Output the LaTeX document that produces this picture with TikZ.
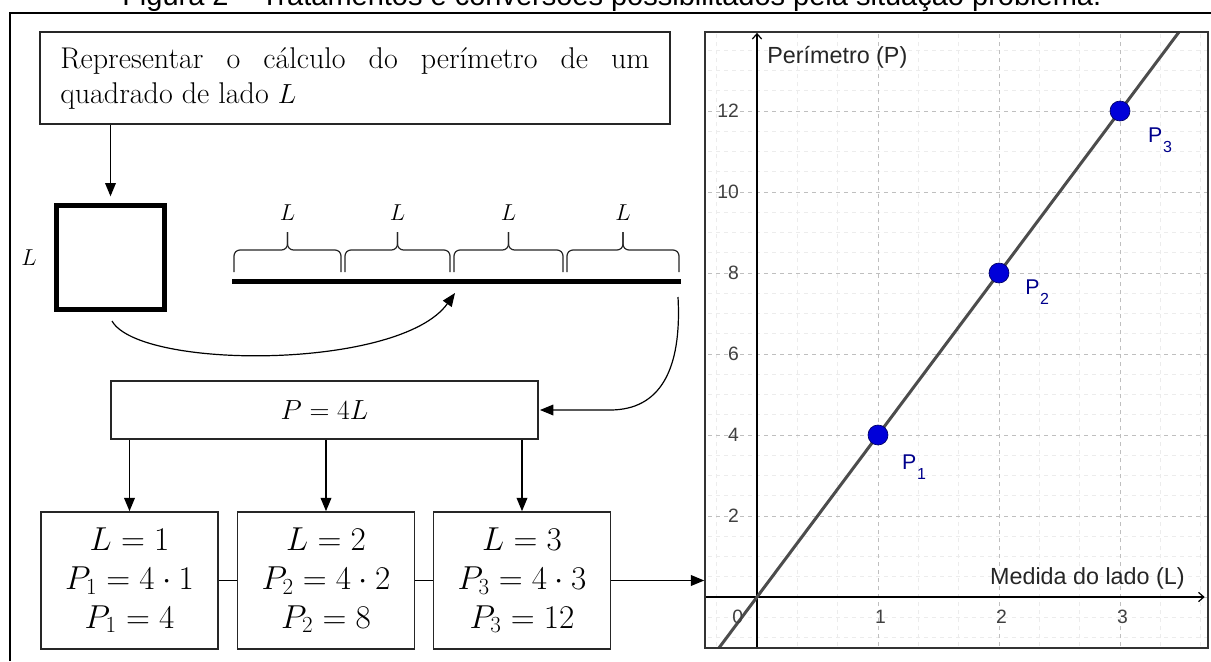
\documentclass[tikz,border=0pt]{standalone}
\usepackage{fontspec}
\usepackage{amsmath}
\setsansfont{Liberation Sans}
\usetikzlibrary{arrows.meta,positioning,calc}

\newcommand{\ptlab}[1]{P\kern0.5pt\raisebox{-7pt}{\fontsize{12}{12}\selectfont #1}}

\tikzset{
  conn/.style={-{Triangle[length=10pt,width=8pt]}, line width=1.1pt},
  boxed/.style={draw=black!85, line width=1.2pt},
  valbox/.style={boxed, minimum width=132.75pt, minimum height=102.75pt, align=center, font=\fontsize{23}{29}\selectfont},
  bracepart/.style={line width=0.9pt, rounded corners=4.5pt, black!85},
  majorgrid/.style={gray!50, dashed, line width=0.5pt},
  minorgrid/.style={gray!15, dashed, line width=0.4pt},
  ticklab/.style={font=\sffamily\fontsize{14.5}{15}\selectfont, text=black!75},
  axislab/.style={font=\sffamily\fontsize{17.5}{20}\selectfont, text=black!85, inner sep=0pt},
  ptdot/.style={circle, fill=blue!85!black, draw=blue!40!black, line width=0.5pt, minimum size=15pt, inner sep=0pt},
  ptname/.style={font=\sffamily\fontsize{16}{18}\selectfont, text=blue!55!black, anchor=base west, inner sep=0pt},
}

\begin{document}
\begin{tikzpicture}[x=0.75pt, y=-0.75pt]
  \useasboundingbox[fill=white] (0,0) rectangle (1211,661);
  % caption, cut by the page, and the outer frame
  \node[font=\sffamily\fontsize{21.75}{26}\selectfont, anchor=base west, inner sep=0pt] (caption) at (122,5)
    {Figura 2 – Tratamentos e conversões possibilitados pela situação problema.};
  \draw[line width=1.5pt] (10,661) -- (10,13) -- (1211,13);

  % the task and the square
  \node[boxed, minimum width=472.5pt, minimum height=69pt, align=left, font=\fontsize{22.5}{26.25}\selectfont] (task) at (355,78)
    {\makebox[442pt][s]{Representar o cálculo do perímetro de um}\\quadrado de lado $L$};
  \node[draw, line width=3.75pt, minimum width=81pt, minimum height=78pt] (sq) at (110.5,257.5) {};
  \node[font=\fontsize{19}{22}\selectfont] (sqside) at (29,258) {$L$};
  \draw[conn, shorten >=5pt] (task.south -| sq.north) -- (sq.north);

  % the four sides laid in a row
  \coordinate (segA) at (232,281);
  \coordinate (segB) at (681,281);
  \draw[line width=3.75pt] (segA) -- (segB);
  \foreach \a/\b/\n in {232/343/1, 343/452/2, 452/565/3, 565/681/4}{
    \pgfmathsetmacro\cx{(\a+\b)/2}
    \draw[bracepart] (\a+2,272) -- (\a+2,250) -- (\cx,250) -- (\cx,232);
    \draw[bracepart] (\b-2,272) -- (\b-2,250) -- (\cx,250) -- (\cx,232);
    \node[font=\fontsize{18}{20}\selectfont] (side\n) at (\cx,213) {$L$};
  }
  \coordinate (bend) at (455,293);
  \draw[conn, line width=0.9pt] ($(sq.south)+(1.5,9)$) .. controls (140,370) and (400,370) .. (bend);

  % the rule
  \coordinate (lineend) at (678,297);
  \node[boxed, minimum width=320pt, minimum height=43.5pt, font=\fontsize{22}{24}\selectfont] (rule) at (324.5,410) {$P = 4L$};
  \draw[conn, line width=0.9pt, shorten >=1pt] (lineend) .. controls (682,370) and (660,410) .. (610,410) -- (rule.east);

  % the three values
  \node[valbox] (v1) at (129.5,580.5) {$L = 1$\\$P_1 = 4\cdot 1$\\$P_1 = 4$};
  \node[valbox] (v2) at (326,580.5) {$L = 2$\\$P_2 = 4\cdot 2$\\$P_2 = 8$};
  \node[valbox] (v3) at (522,580.5) {$L = 3$\\$P_3 = 4\cdot 3$\\$P_3 = 12$};
  \foreach \v in {v1,v2,v3}
    \draw[conn] (rule.south -| \v.north) -- (\v.north);
  \draw[line width=1.1pt] (v1) -- (v2) (v2) -- (v3);

  % the graph
  \begin{scope}[shift={(757,597)}, x=90.75pt, y=30.375pt]
    \clip (-0.43,-1.26) rectangle (3.727,13.95);
    \draw[minorgrid] (-1,-2) grid[xstep=0.33333, ystep=0.5] (4,14);
    \draw[majorgrid] (-1,-2) grid[xstep=1, ystep=2] (4,14);
    \draw[line width=0.9pt, -{Straight Barb[length=4pt,width=7pt]}] (-0.43,0) -- (3.7,0);
    \draw[line width=0.9pt, -{Straight Barb[length=4pt,width=7pt]}] (0,-1.26) -- (0,13.93);
    \draw[line width=2.25pt, black!70] (-0.4,-1.6) -- (3.6,14.4);
    \foreach \k in {1,2,3}
      \node[ptdot] (pt\k) at (\k,4*\k) {};
    \node[ticklab] (x0) at (-0.16,-0.49) {0};
    \foreach \k in {1,2,3}
      \node[ticklab] (x\k) at (\k+0.02,-0.49) {\k};
    \foreach \k in {2,4,...,12}
      \node[ticklab, anchor=east] (y\k) at (-0.11,\k) {\k};
    \node[axislab, anchor=west] (ylab) at (0.083,13.33) {Perímetro (P)};
    \node[axislab, anchor=east] (xlab) at (3.537,0.47) {Medida do lado (L)};
    \node[ptname] (n1) at (1.198,3.136) {\ptlab{1}};
    \node[ptname] (n2) at (2.215,7.457) {\ptlab{2}};
    \node[ptname] (n3) at (3.231,11.21) {\ptlab{3}};
  \end{scope}
  \node[draw=black!80, line width=1.1pt, minimum width=377.25pt, minimum height=462pt, inner sep=0pt] (graph) at (956.5,340) {};
  \draw[conn] (v3.east) -- (v3.east -| graph.west);
\end{tikzpicture}
\end{document}
